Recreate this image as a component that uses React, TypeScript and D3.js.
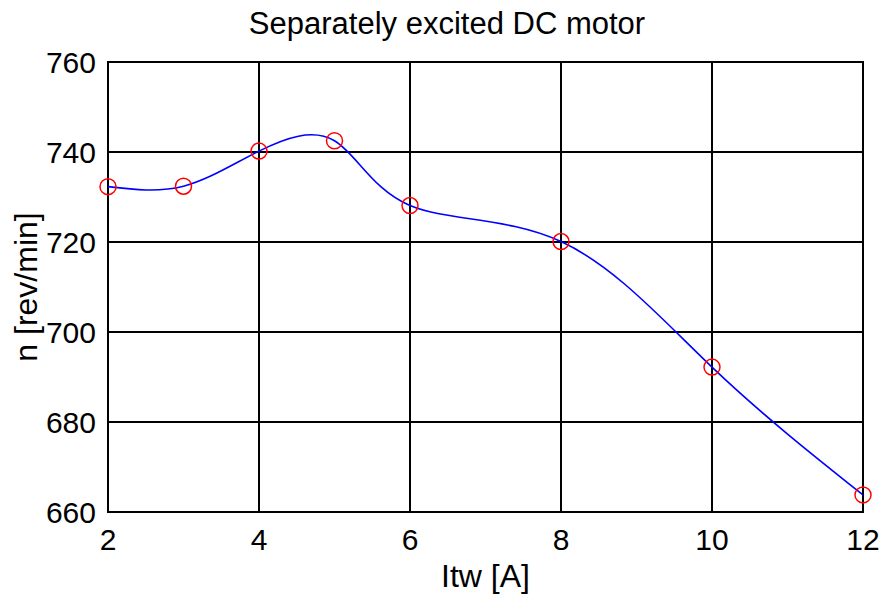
import React, { useRef, useEffect } from 'react';
import * as d3 from 'd3';

// field current Itw [A] and speed n [rev/min]
const itw = [2, 3, 4, 5, 6, 8, 10, 12];
const speed = [732.3, 732.4, 740.2, 742.5, 728.1, 720.1, 692.2, 663.8];
const xTicks = [2, 4, 6, 8, 10, 12];
const yTicks = [660, 680, 700, 720, 740, 760];

const title = 'Separately excited DC motor';
const xLabel = 'Itw [A]';
const yLabel = 'n [rev/min]';

const W = 882;
const H = 594;

export default function App() {
  const svgRef = useRef(null);

  useEffect(() => {
    const margin = { top: 62, right: 19, bottom: 82, left: 108 };
    const width = W - margin.left - margin.right;
    const height = H - margin.top - margin.bottom;
    const font = '"Liberation Sans", Arial, sans-serif';

    const root = d3.select(svgRef.current);
    root.selectAll('*').remove();
    root.append('rect').attr('width', W).attr('height', H).attr('fill', '#fff');

    const svg = root.append('g')
      .attr('transform', `translate(${margin.left},${margin.top})`);

    const x = d3.scaleLinear().domain([2, 12]).range([0, width]);
    const y = d3.scaleLinear().domain([660, 760]).range([height, 0]);

    // grid
    svg.selectAll('.vgrid').data(xTicks).enter().append('line')
      .attr('x1', d => x(d)).attr('x2', d => x(d))
      .attr('y1', 0).attr('y2', height)
      .attr('stroke', '#000').attr('stroke-width', 2);
    svg.selectAll('.hgrid').data(yTicks).enter().append('line')
      .attr('x1', 0).attr('x2', width)
      .attr('y1', d => y(d)).attr('y2', d => y(d))
      .attr('stroke', '#000').attr('stroke-width', 2);
    svg.append('rect')
      .attr('width', width).attr('height', height)
      .attr('fill', 'none').attr('stroke', '#000').attr('stroke-width', 2);

    // tick labels
    svg.selectAll('.xt').data(xTicks).enter().append('text')
      .attr('x', d => x(d)).attr('y', height + 38)
      .attr('text-anchor', 'middle')
      .style('font-family', font).style('font-size', '30px')
      .text(d => d);
    svg.selectAll('.yt').data(yTicks).enter().append('text')
      .attr('x', -12).attr('y', d => y(d) + 11)
      .attr('text-anchor', 'end')
      .style('font-family', font).style('font-size', '30px')
      .text(d => d);

    // curve through the measured points
    const pts = itw.map((v, i) => [v, speed[i]]);
    const line = d3.line()
      .x(d => x(d[0]))
      .y(d => y(d[1]))
      .curve(d3.curveNatural);
    svg.append('path')
      .datum(pts)
      .attr('d', line)
      .attr('fill', 'none')
      .attr('stroke', '#0000ff')
      .attr('stroke-width', 1.6);

    svg.selectAll('.pt').data(pts).enter().append('circle')
      .attr('cx', d => x(d[0])).attr('cy', d => y(d[1]))
      .attr('r', 8)
      .attr('fill', 'none')
      .attr('stroke', '#ff0000')
      .attr('stroke-width', 1.5);

    // titles
    root.append('text')
      .attr('x', 447).attr('y', 34)
      .attr('text-anchor', 'middle')
      .style('font-family', font).style('font-size', '31px')
      .text(title);
    root.append('text')
      .attr('x', margin.left + width / 2).attr('y', 587)
      .attr('text-anchor', 'middle')
      .style('font-family', font).style('font-size', '32px')
      .text(xLabel);
    root.append('text')
      .attr('transform', `translate(37,${margin.top + height / 2}) rotate(-90)`)
      .attr('text-anchor', 'middle')
      .style('font-family', font).style('font-size', '32px')
      .text(yLabel);
  }, []);

  return (
    <div style={{ position: 'absolute', left: 0, top: 0 }}>
      <svg ref={svgRef} width={W} height={H} style={{ display: 'block' }}></svg>
    </div>
  );
}
